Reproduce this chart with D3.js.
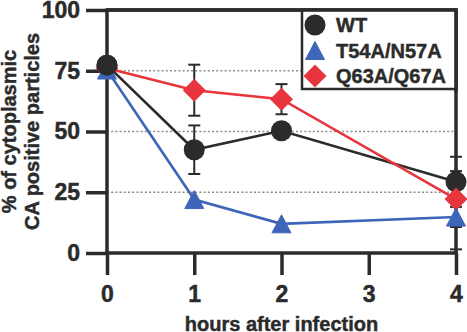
<!DOCTYPE html>
<html>
<head>
<meta charset="utf-8">
<script src="https://cdn.jsdelivr.net/npm/d3@7"></script>
<style>
  html, body { margin: 0; padding: 0; background: #fff; }
  svg { display: block; }
  text { font-family: "Liberation Sans", Arial, Helvetica, sans-serif; font-weight: bold; fill: #2b2b2b; stroke: #2b2b2b; stroke-width: 0.45px; }
</style>
</head>
<body>
<svg id="chart" width="467" height="332"></svg>
<script>
// ---- data ----
const hours = [0, 1, 2, 4];
const xTicks = [0, 1, 2, 3, 4];
const yTicks = [0, 25, 50, 75, 100];
const gridValues = [25, 50, 75];
const seriesNames = ["WT", "T54A/N57A", "Q63A/Q67A"];
const wtValues = [77.3, 42.5, 50.3, 29.3];
const wtErrors = [0, 10, 0, 10.3];
const t54Values = [75.3, 22, 12, 14.8];
const t54Errors = [0, 0, 0, 13.3];
const q63Values = [76, 67, 63.3, 22.2];
const q63Errors = [0, 10.5, 6.2, 11.5];
const xTitle = "hours after infection";
const yTitleLines = ["% of cytoplasmic", "CA positive particles"];

// ---- setup ----
const svg = d3.select("#chart");
const pLeft = 107, pRight = 456, pTop = 10, pBottom = 253;
const x = d3.scaleLinear().domain([0, 4]).range([pLeft, pRight]);
const y = d3.scaleLinear().domain([0, 100]).range([pBottom, pTop]);
const dark = "#2b2b2b";

const series = [
  { name: seriesNames[0], values: wtValues, errors: wtErrors, color: "#2b2b2b", shape: "circle" },
  { name: seriesNames[1], values: t54Values, errors: t54Errors, color: "#3e66b8", shape: "triangle" },
  { name: seriesNames[2], values: q63Values, errors: q63Errors, color: "#e8343d", shape: "diamond" }
];

// gridlines
svg.append("g").selectAll("line").data(gridValues).join("line")
  .attr("x1", pLeft).attr("x2", pRight)
  .attr("y1", d => y(d)).attr("y2", d => y(d))
  .attr("stroke", "#8c8c8c").attr("stroke-width", 1.6)
  .attr("stroke-dasharray", "2,2.2");

// frame top & right
svg.append("line").attr("x1", pLeft).attr("x2", pRight).attr("y1", pTop).attr("y2", pTop)
  .attr("stroke", dark).attr("stroke-width", 3.5);
svg.append("line").attr("x1", pRight).attr("x2", pRight).attr("y1", pTop - 1.7).attr("y2", pBottom)
  .attr("stroke", dark).attr("stroke-width", 3.5);

// axes
const yAxis = svg.append("g").attr("transform", `translate(${pLeft},0)`)
  .call(d3.axisLeft(y).tickValues(yTicks).tickFormat(d3.format("d")).tickSize(21).tickSizeOuter(0).tickPadding(6));
const xAxis = svg.append("g").attr("transform", `translate(0,${pBottom})`)
  .call(d3.axisBottom(x).tickValues(xTicks).tickFormat(d3.format("d")).tickSize(22).tickSizeOuter(0).tickPadding(11));
[yAxis, xAxis].forEach(a => {
  a.select(".domain").attr("stroke", dark).attr("stroke-width", 3.5);
  a.selectAll(".tick line").attr("stroke", dark).attr("stroke-width", 3.5);
  a.selectAll(".tick text").attr("fill", dark).style("font-size", "23px").style("font-weight", "bold")
    .style("font-family", '"Liberation Sans", Arial, sans-serif');
});
yAxis.select(".domain").attr("d", `M0,${pTop - 1.7}V${pBottom + 1.7}`);
xAxis.select(".domain").attr("d", `M${pLeft - 1.7},0H${pRight + 1.7}`);

// axis titles
svg.append("text").attr("x", (pLeft + pRight) / 2).attr("y", 330.5)
  .attr("text-anchor", "middle").style("font-size", "20px").text(xTitle);
const yt = svg.append("text").attr("transform", `translate(0,${(pTop + pBottom) / 2}) rotate(-90)`)
  .attr("text-anchor", "middle").style("font-size", "20px");
yTitleLines.forEach((t, i) => {
  yt.append("tspan").attr("x", 0).attr("y", 16 + i * 22.5).text(t);
});

// lines
const line = d3.line().x((d, i) => x(hours[i])).y(d => y(d));
series.forEach(s => {
  svg.append("path").datum(s.values).attr("d", line)
    .attr("fill", "none").attr("stroke", s.color).attr("stroke-width", 2.6);
});

// error bars
const capW = 6;
series.forEach(s => {
  const g = svg.append("g").attr("stroke", dark).attr("stroke-width", 2);
  s.values.forEach((v, i) => {
    const e = s.errors[i];
    if (!e) return;
    const cx = x(hours[i]);
    g.append("line").attr("x1", cx).attr("x2", cx).attr("y1", y(v - e)).attr("y2", y(v + e));
    g.append("line").attr("x1", cx - capW).attr("x2", cx + capW).attr("y1", y(v + e)).attr("y2", y(v + e));
    g.append("line").attr("x1", cx - capW).attr("x2", cx + capW).attr("y1", y(v - e)).attr("y2", y(v - e));
  });
});

// markers
function drawMarker(g, shape, cx, cy, color) {
  if (shape === "circle") {
    g.append("circle").attr("cx", cx).attr("cy", cy).attr("r", 10.5).attr("fill", color);
  } else if (shape === "triangle") {
    const h = 18, w = 19;
    g.append("path").attr("d", `M${cx},${cy - h / 2}L${cx + w / 2},${cy + h / 2}L${cx - w / 2},${cy + h / 2}Z`)
      .attr("fill", color).attr("stroke", color).attr("stroke-width", 1).attr("stroke-linejoin", "round");
  } else {
    const r = 11.5;
    g.append("path").attr("d", `M${cx},${cy - r}L${cx + r},${cy}L${cx},${cy + r}L${cx - r},${cy}Z`)
      .attr("fill", color);
  }
}
const mg = svg.append("g");
const drawOrder = [0, 2, 1];
drawOrder.forEach(si => {
  const s = series[si];
  s.values.forEach((v, i) => drawMarker(mg, s.shape, x(hours[i]), y(v), s.color));
});
// WT at time 0 sits on top of the others
drawMarker(mg, series[0].shape, x(hours[0]), y(series[0].values[0]), series[0].color);

// legend
const lg = svg.append("g");
lg.append("rect").attr("x", 302).attr("y", pTop).attr("width", pRight - 302).attr("height", 89 - pTop)
  .attr("fill", "#fff").attr("stroke", dark).attr("stroke-width", 2.5);
svg.append("line").attr("x1", pLeft).attr("x2", pRight).attr("y1", pTop).attr("y2", pTop)
  .attr("stroke", dark).attr("stroke-width", 3.5);
svg.append("line").attr("x1", pRight).attr("x2", pRight).attr("y1", pTop - 1.7).attr("y2", 92)
  .attr("stroke", dark).attr("stroke-width", 3.5);
const rowY = [25, 50.5, 76];
series.forEach((s, i) => {
  drawMarker(lg, s.shape, 315, rowY[i], s.color);
  lg.append("text").attr("x", 336).attr("y", rowY[i] + 7.2).style("font-size", "20px").text(s.name);
});
</script>
</body>
</html>
